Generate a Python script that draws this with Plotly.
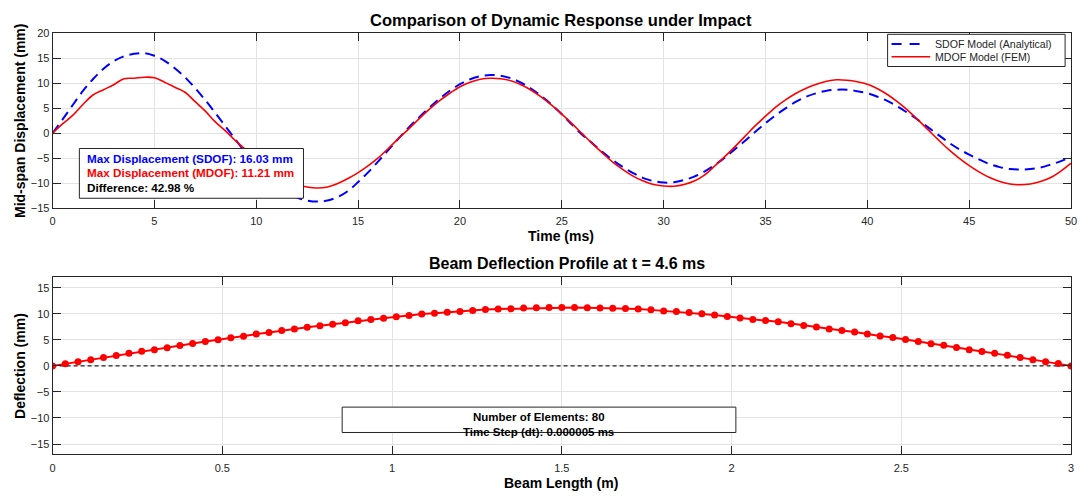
import plotly.graph_objects as go

# ---- time-history data (0.5 ms sampling) ----
time_ms = [i * 0.5 for i in range(101)]

sdof_mm = [
    0.0, 2.8, 5.7, 8.5, 10.9, 12.9, 14.4, 15.4, 15.9, 16.03,
    15.5, 14.5, 13.0, 11.2, 9.0, 6.6, 4.0, 1.3, -1.4, -4.0,
    -6.4, -8.5, -10.3, -11.8, -12.9, -13.5, -13.7, -13.5, -12.8, -11.6,
    -9.8, -7.8, -5.6, -3.3, -1.0, 1.2, 3.2, 5.1, 6.9, 8.5,
    9.8, 10.8, 11.4, 11.65, 11.5, 11.0, 10.1, 8.9, 7.4, 5.7,
    3.8, 1.7, -0.3, -2.0, -3.8, -5.4, -6.8, -8.0, -9.0, -9.6,
    -9.9, -9.85, -9.4, -8.7, -7.7, -6.4, -4.9, -3.2, -1.5, 0.3,
    2.0, 3.6, 5.0, 6.3, 7.3, 8.0, 8.5, 8.7, 8.7, 8.4,
    8.0, 7.3, 6.4, 5.3, 4.0, 2.6, 1.1, -0.4, -1.9, -3.2,
    -4.3, -5.3, -6.2, -6.8, -7.2, -7.3, -7.2, -6.9, -6.3, -5.6,
    -4.8,
]

mdof_mm = [
    0.0, 1.9, 3.6, 5.8, 7.7, 8.7, 9.7, 10.9, 11.0, 11.21,
    11.1, 10.2, 9.2, 8.2, 6.3, 4.4, 2.2, 0.4, -1.6, -3.4,
    -5.3, -7.0, -8.5, -9.7, -10.4, -10.8, -11.0, -10.8, -10.1, -9.1,
    -7.9, -6.5, -4.9, -3.0, -1.0, 0.9, 2.9, 4.8, 6.5, 8.0,
    9.3, 10.2, 10.8, 11.0, 10.9, 10.5, 9.7, 8.6, 7.2, 5.6,
    3.8, 1.9, -0.1, -2.1, -4.0, -5.8, -7.3, -8.6, -9.6, -10.3,
    -10.6, -10.65, -10.3, -9.6, -8.4, -6.6, -4.7, -2.7, -0.6, 1.5,
    3.4, 5.2, 6.7, 8.0, 9.0, 9.8, 10.4, 10.7, 10.6, 10.3,
    9.8, 8.9, 7.7, 6.2, 4.5, 2.6, 0.6, -1.4, -3.3, -5.0,
    -6.5, -7.8, -8.9, -9.7, -10.2, -10.35, -10.2, -9.7, -8.9, -7.6,
    -6.0,
]

# ---- beam deflection at t = 4.6 ms (81 nodes, 80 elements) ----
beam_length_m = [i * 0.0375 for i in range(81)]
deflection_mm = [
    0.0, 0.4, 0.8, 1.2, 1.6, 2.0, 2.4, 2.8, 3.1, 3.5,
    3.9, 4.3, 4.7, 5.0, 5.4, 5.7, 6.1, 6.4, 6.8, 7.1,
    7.4, 7.7, 8.0, 8.3, 8.65, 8.9, 9.15, 9.45, 9.65, 9.95,
    10.1, 10.3, 10.45, 10.65, 10.8, 10.9, 10.95, 11.1, 11.15, 11.19,
    11.21, 11.2, 11.15, 11.1, 11.05, 11.0, 10.9, 10.75, 10.55, 10.45,
    10.25, 10.0, 9.75, 9.5, 9.2, 8.9, 8.7, 8.45, 8.1, 7.75,
    7.45, 7.1, 6.8, 6.5, 6.1, 5.75, 5.45, 5.05, 4.7, 4.25,
    3.95, 3.55, 3.1, 2.75, 2.4, 2.05, 1.6, 1.2, 0.8, 0.45,
    0.0,
]

series_names = ["SDOF Model (Analytical)", "MDOF Model (FEM)"]
series_colors = ["#0000ff", "#ff0000"]

max_sdof = max(sdof_mm)
max_mdof = max(mdof_mm)
diff_pct = 42.98
n_elements = 80
dt_label = "0.000005"

W, H = 1084, 499
FONT = "Liberation Sans, Arial, sans-serif"
AX = "#262626"
GRID = "#e3e3e3"
SDOF_DASH = "10px,6px"


def px_x(p):
    return p / W


def px_y(p):
    return 1 - p / H


fig = go.Figure()

fig.add_trace(go.Scatter(
    x=time_ms, y=sdof_mm, mode="lines", name=series_names[0],
    line=dict(color=series_colors[0], width=2, dash=SDOF_DASH, shape="spline"),
    xaxis="x", yaxis="y",
))
fig.add_trace(go.Scatter(
    x=time_ms, y=mdof_mm, mode="lines", name=series_names[1],
    line=dict(color=series_colors[1], width=1.6, shape="spline"),
    xaxis="x", yaxis="y",
))
fig.add_trace(go.Scatter(
    x=beam_length_m, y=deflection_mm, mode="lines+markers",
    line=dict(color="#ff0000", width=2),
    marker=dict(color="#ff0000", size=7),
    xaxis="x2", yaxis="y2",
))

axis_common = dict(
    showline=True, linecolor=AX, linewidth=1, mirror="ticks",
    ticks="inside", tickcolor=AX, ticklen=8, tickwidth=1,
    showgrid=True, gridcolor=GRID, gridwidth=1, zeroline=False,
    tickfont=dict(family=FONT, size=11, color=AX),
)

x_dom = [px_x(50), px_x(1077)]

fig.update_layout(
    width=W, height=H,
    margin=dict(l=0, r=0, t=0, b=0),
    paper_bgcolor="white", plot_bgcolor="white",
    font=dict(family=FONT, color=AX),
    showlegend=False,
    xaxis=dict(domain=x_dom, range=[0, 50], tickmode="array",
               tickvals=list(range(0, 51, 5)), anchor="y",
               ticklabelstandoff=3, **axis_common),
    yaxis=dict(domain=[px_y(207), px_y(28)], range=[-15, 20], tickmode="array",
               tickvals=list(range(-15, 21, 5)), anchor="x", **axis_common),
    xaxis2=dict(domain=x_dom, range=[0, 3], tickmode="array",
                tickvals=[0, 0.5, 1, 1.5, 2, 2.5, 3],
                ticktext=["0", "0.5", "1", "1.5", "2", "2.5", "3"],
                anchor="y2", ticklabelstandoff=3, **axis_common),
    yaxis2=dict(domain=[px_y(459.5), px_y(278)], range=[-17, 17], tickmode="array",
                tickvals=list(range(-15, 16, 5)), anchor="x2", **axis_common),
)

shapes = []
# zero reference line on the deflection plot
shapes.append(dict(type="line", xref="x2", yref="y2", x0=0, x1=3, y0=0, y1=0,
                   line=dict(color="#222222", width=1.2, dash="4px,3px"), layer="between"))
# white info boxes drawn over the curves
shapes.append(dict(type="rect", xref="paper", yref="paper",
                   x0=px_x(77), x1=px_x(303), y0=px_y(197), y1=px_y(146),
                   fillcolor="white", line=dict(color=AX, width=1), layer="above"))
shapes.append(dict(type="rect", xref="paper", yref="paper",
                   x0=px_x(342), x1=px_x(739), y0=px_y(437), y1=px_y(411),
                   fillcolor="white", line=dict(color=AX, width=1), layer="above"))
# legend box with line samples
shapes.append(dict(type="rect", xref="paper", yref="paper",
                   x0=px_x(892), x1=px_x(1071), y0=px_y(62), y1=px_y(29),
                   fillcolor="white", line=dict(color=AX, width=1), layer="above"))
shapes.append(dict(type="line", xref="paper", yref="paper",
                   x0=px_x(896), x1=px_x(932), y0=px_y(39), y1=px_y(39),
                   line=dict(color=series_colors[0], width=2, dash="10px,8px"), layer="above"))
shapes.append(dict(type="line", xref="paper", yref="paper",
                   x0=px_x(896), x1=px_x(935), y0=px_y(52), y1=px_y(52),
                   line=dict(color=series_colors[1], width=1.6), layer="above"))

ann = []


def add_text(text, xpx, ypx, size, color="black", xanchor="center", angle=0):
    ann.append(dict(text=text, x=px_x(xpx), y=px_y(ypx), xref="paper", yref="paper",
                    xanchor=xanchor, yanchor="middle", showarrow=False, textangle=angle,
                    font=dict(family=FONT, size=size, color=color)))


# titles
add_text("<b>Comparison of Dynamic Response under Impact</b>", 563, 14, 16.5)
add_text("<b>Beam Deflection Profile at t = 4.6 ms</b>", 569, 264, 16)
# axis titles
add_text("<b>Time (ms)</b>", 563, 236, 14)
add_text("<b>Beam Length (m)</b>", 563, 489, 14)
add_text("<b>Mid-span Displacement (mm)</b>", 17, 118, 14, angle=-90)
add_text("<b>Deflection (mm)</b>", 17, 369, 14, angle=-90)
# legend entries
add_text(series_names[0], 938, 39, 10.6, color=AX, xanchor="left")
add_text(series_names[1], 938, 52, 10.6, color=AX, xanchor="left")
# info box text, top plot
add_text(f"<b>Max Displacement (SDOF): {max_sdof:.2f} mm</b>", 83, 156, 11.7,
         color="#0000ff", xanchor="left")
add_text(f"<b>Max Displacement (MDOF): {max_mdof:.2f} mm</b>", 83, 171, 11.7,
         color="#ff0000", xanchor="left")
add_text(f"<b>Difference: {diff_pct:.2f} %</b>", 83, 186, 11.7, xanchor="left")
# info box text, bottom plot
add_text(f"<b>Number of Elements: {n_elements}</b>", 540, 421, 11.5)
add_text(f"<b>Time Step (dt): {dt_label} ms</b>", 540, 436, 11.5)

fig.update_layout(shapes=shapes, annotations=ann)

fig.write_html("out.html")
